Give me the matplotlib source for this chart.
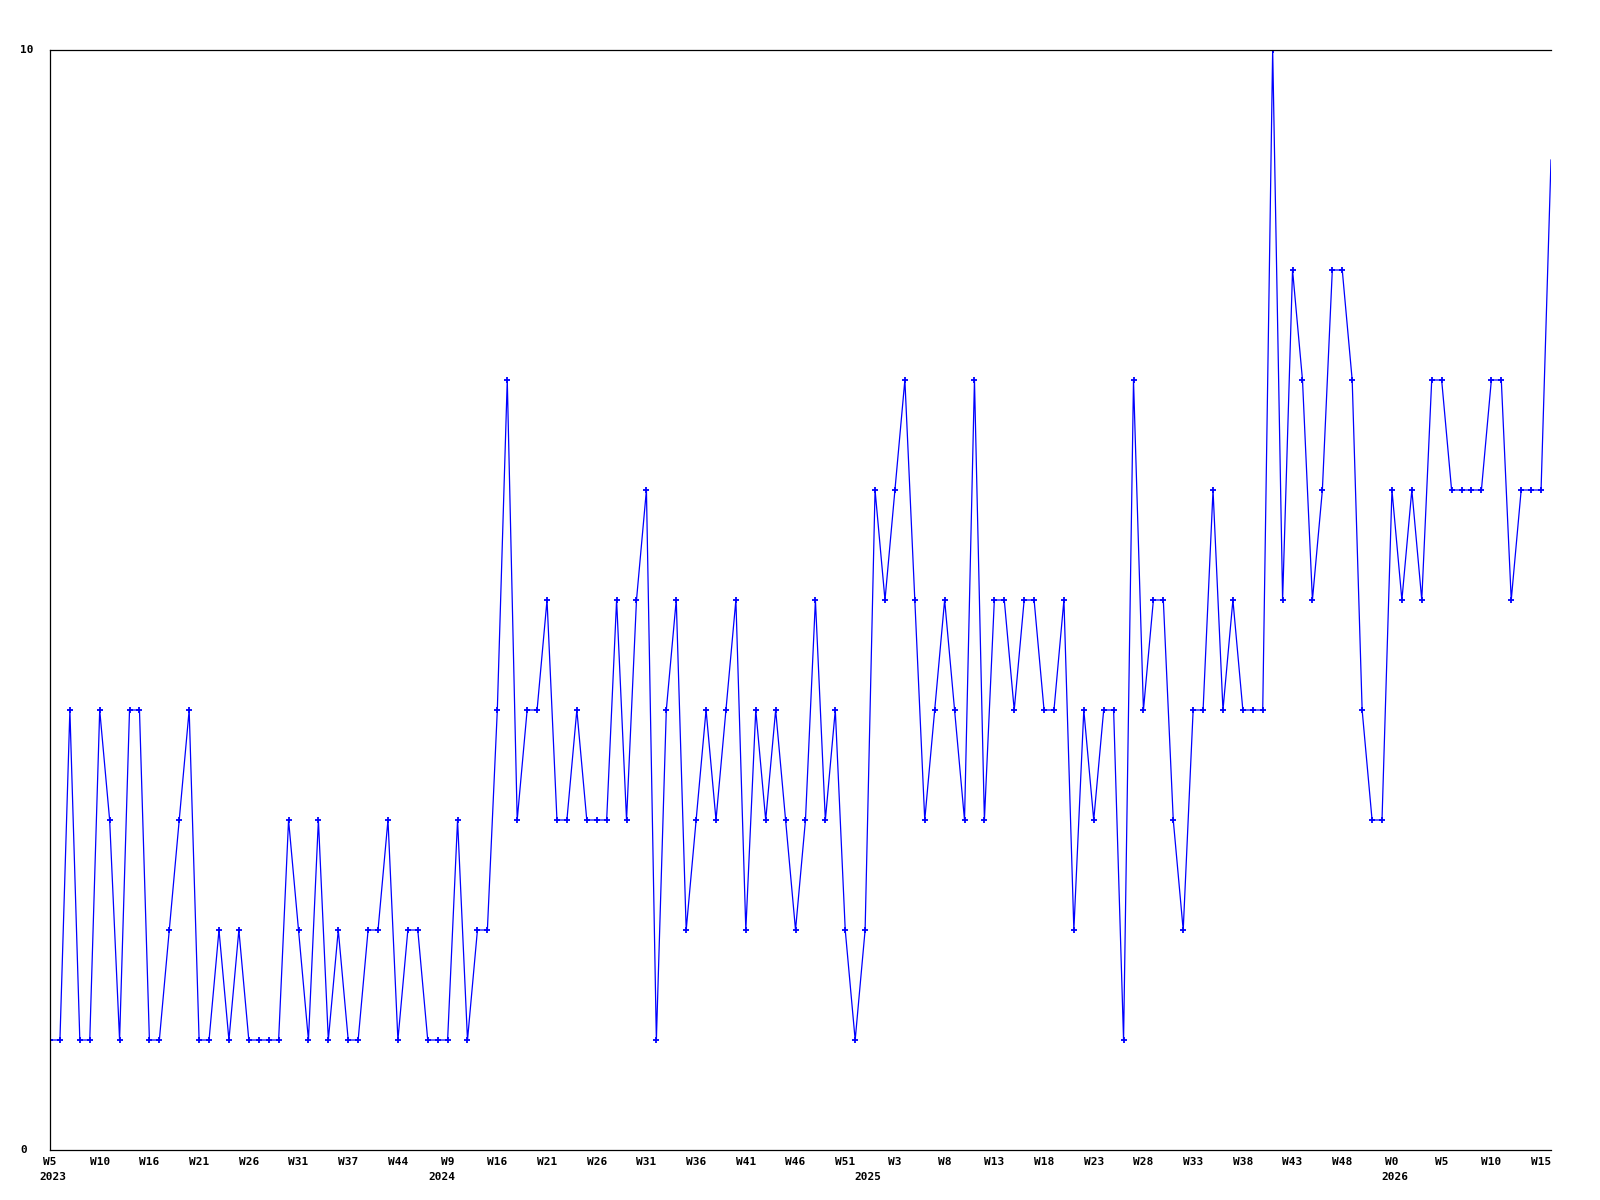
import matplotlib
matplotlib.use("Agg")
import matplotlib.pyplot as plt
from matplotlib.transforms import blended_transform_factory

# weekly counts, one per point
values = [1, 1, 4, 1, 1, 4, 3, 1, 4, 4,
          1, 1, 2, 3, 4, 1, 1, 2, 1, 2,
          1, 1, 1, 1, 3, 2, 1, 3, 1, 2,
          1, 1, 2, 2, 3, 1, 2, 2, 1, 1,
          1, 3, 1, 2, 2, 4, 7, 3, 4, 4,
          5, 3, 3, 4, 3, 3, 3, 5, 3, 5,
          6, 1, 4, 5, 2, 3, 4, 3, 4, 5,
          2, 4, 3, 4, 3, 2, 3, 5, 3, 4,
          2, 1, 2, 6, 5, 6, 7, 5, 3, 4,
          5, 4, 3, 7, 3, 5, 5, 4, 5, 5,
          4, 4, 5, 2, 4, 3, 4, 4, 1, 7,
          4, 5, 5, 3, 2, 4, 4, 6, 4, 5,
          4, 4, 4, 10, 5, 8, 7, 5, 6, 8,
          8, 7, 4, 3, 3, 6, 5, 6, 5, 7,
          7, 6, 6, 6, 6, 7, 7, 5, 6, 6,
          6, 9]

week_labels = ["W5", "W10", "W16", "W21", "W26", "W31", "W37", "W44",
               "W9", "W16", "W21", "W26", "W31", "W36", "W41", "W46", "W51",
               "W3", "W8", "W13", "W18", "W23", "W28", "W33", "W38", "W43", "W48",
               "W0", "W5", "W10", "W15"]
years = ["2023", "2024", "2025", "2026"]
year_pos = [0.3, 39.4, 82.3, 135.3]

x = list(range(len(values)))
tick_pos = x[::5]

fig = plt.figure(figsize=(16, 12), dpi=100)
ax = fig.add_axes([50 / 1600, 50 / 1200, 1501 / 1600, 1100 / 1200])

# last point sits on the right edge, no marker there in the original
ax.plot(x, values, color="#0000ff", lw=0.9, marker="+", ms=4.5, mew=1.3,
        markevery=list(range(len(values) - 1)))

ax.set_xlim(0, len(values) - 1)
ax.set_ylim(0, 10)

for s in ["left", "bottom", "top"]:
    ax.spines[s].set_linewidth(0.9)
    ax.spines[s].set_color("black")
ax.spines["right"].set_visible(False)

ax.set_xticks([])
ax.set_yticks([])

font = dict(family="DejaVu Sans Mono", weight="bold", size=8)

tr = blended_transform_factory(ax.transData, fig.transFigure)
for p, lab in zip(tick_pos, week_labels):
    ax.text(p, 1 - 1162 / 1200, lab, transform=tr, ha="center", va="center", **font)
for p, yr in zip(year_pos, years):
    ax.text(p, 1 - 1177 / 1200, yr, transform=tr, ha="center", va="center", **font)

trl = blended_transform_factory(fig.transFigure, ax.transData)
ax.text(20 / 1600, 10, "10", transform=trl, ha="left", va="center", **font)
ax.text(20 / 1600, 0, "0", transform=trl, ha="left", va="center", **font)

fig.savefig("out.png", dpi=100)
